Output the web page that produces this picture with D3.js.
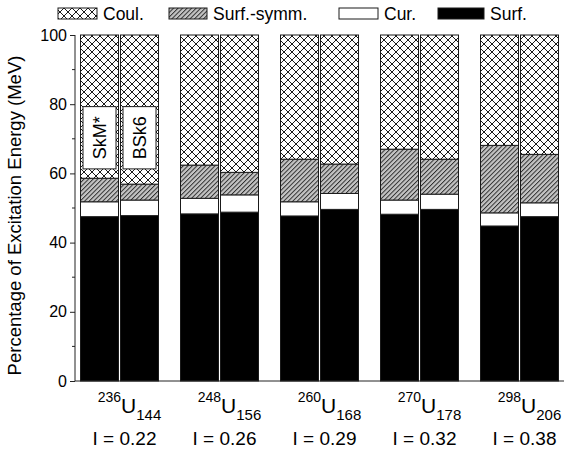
<!DOCTYPE html>
<html>
<head>
<meta charset="utf-8">
<script src="https://cdn.jsdelivr.net/npm/d3@7"></script>
<style>
  html, body { margin: 0; padding: 0; background: #fff; }
  svg { display: block; font-family: "Liberation Sans", Arial, sans-serif; }
</style>
</head>
<body>
<svg id="chart" width="577" height="451"></svg>
<script>
// Nuclei (mass number, neutron number) and isospin asymmetry
const massNumbers = ["236", "248", "260", "270", "298"];
const neutronNumbers = ["144", "156", "168", "178", "206"];
const asymmetry = ["0.22", "0.26", "0.29", "0.32", "0.38"];
const models = ["SkM*", "BSk6"];

// Energy shares (%), ordered nucleus by nucleus: [SkM*, BSk6, SkM*, BSk6, ...]
const surf     = [47.5, 47.8, 48.3, 48.8, 47.7, 49.6, 48.2, 49.6, 44.8, 47.5];
const cur      = [ 4.3,  4.5,  4.5,  5.0,  4.1,  4.6,  4.1,  4.4,  3.8,  4.0];
const surfSymm = [ 6.8,  4.6,  9.6,  6.5, 12.3,  8.5, 14.7, 10.1, 19.5, 14.0];
const coul     = [41.4, 43.1, 37.6, 39.7, 35.9, 37.3, 33.0, 35.9, 31.9, 34.5];

const yTicks = [0, 20, 40, 60, 80, 100];
const yMinorTicks = [10, 30, 50, 70, 90];

const keys = ["surf", "cur", "surfSymm", "coul"];
const legendLabels = { coul: "Coul.", surfSymm: "Surf.-symm.", cur: "Cur.", surf: "Surf." };

const rows = [];
massNumbers.forEach((a, gi) => {
  models.forEach((m, mi) => {
    const i = gi * 2 + mi;
    rows.push({ nucleus: a, model: m, surf: surf[i], cur: cur[i], surfSymm: surfSymm[i], coul: coul[i] });
  });
});

const svg = d3.select("#chart");
const defs = svg.append("defs");

// Cross-hatch for the Coulomb part
const pc = defs.append("pattern").attr("id", "pat-coul")
  .attr("patternUnits", "userSpaceOnUse").attr("width", 8).attr("height", 8);
pc.append("rect").attr("width", 8).attr("height", 8).attr("fill", "#fff");
pc.append("path").attr("d", "M0,0L8,8M8,0L0,8M-1,1L1,-1M7,9L9,7M-1,7L1,9M7,-1L9,1")
  .attr("stroke", "#000").attr("stroke-width", 0.9);

// Grey diagonal hatch for the surface-symmetry part
const ps = defs.append("pattern").attr("id", "pat-symm")
  .attr("patternUnits", "userSpaceOnUse").attr("width", 3.2).attr("height", 10)
  .attr("patternTransform", "rotate(45)");
ps.append("rect").attr("width", 3.2).attr("height", 10).attr("fill", "#c4c4c4");
ps.append("line").attr("x1", 0.5).attr("x2", 0.5).attr("y1", 0).attr("y2", 10)
  .attr("stroke", "#222").attr("stroke-width", 0.9);

const fills = { surf: "#000", cur: "#fff", surfSymm: "url(#pat-symm)", coul: "url(#pat-coul)" };

const x0 = d3.scaleBand().domain(massNumbers).range([69.5, 569.5])
  .paddingInner(0.22).paddingOuter(0.11);
const x1 = d3.scaleBand().domain(models).range([0, x0.bandwidth()]).paddingInner(0.05);
const y = d3.scaleLinear().domain([0, 100]).range([381, 35]);

const stack = d3.stack().keys(keys);
const series = stack(rows);

const gBars = svg.append("g");
series.forEach(s => {
  gBars.append("g").selectAll("rect").data(s).join("rect")
    .attr("x", d => x0(d.data.nucleus) + x1(d.data.model))
    .attr("width", x1.bandwidth())
    .attr("y", d => y(d[1]))
    .attr("height", d => y(d[0]) - y(d[1]))
    .attr("fill", fills[s.key])
    .attr("stroke", "#1a1a1a")
    .attr("stroke-width", 1);
});

// Model name boxes inside the first nucleus' bars
models.forEach(m => {
  const bx = x0(massNumbers[0]) + x1(m) + 2.5;
  const bw = x1.bandwidth() - 5;
  const top = y(79.3), bot = y(61.3);
  svg.append("rect").attr("x", bx).attr("y", top).attr("width", bw).attr("height", bot - top)
    .attr("fill", "#fff").attr("stroke", "#1a1a1a").attr("stroke-width", 1);
  const cx = bx + bw / 2, cy = (top + bot) / 2;
  svg.append("text").attr("transform", `translate(${cx + 6.5},${cy}) rotate(-90)`)
    .attr("text-anchor", "middle").attr("font-size", 18).text(m);
});

// Axes
const axisLeft = d3.axisLeft(y).tickValues(yTicks).tickSize(5).tickPadding(3).tickSizeOuter(0);
const gy = svg.append("g").attr("transform", "translate(75,0)").call(axisLeft);
gy.select(".domain").remove();
gy.selectAll("text").attr("font-size", 16).attr("font-family", "Liberation Sans, Arial, sans-serif");
gy.selectAll("line").attr("stroke", "#222");
svg.append("g").attr("transform", "translate(75,0)")
  .selectAll("line").data(yMinorTicks).join("line")
  .attr("x1", -3).attr("x2", 0).attr("y1", d => y(d)).attr("y2", d => y(d)).attr("stroke", "#222");
svg.append("line").attr("x1", 75).attr("x2", 75).attr("y1", y(100)).attr("y2", y(0))
  .attr("stroke", "#222").attr("stroke-width", 1);
svg.append("line").attr("x1", 75).attr("x2", 564).attr("y1", y(0)).attr("y2", y(0))
  .attr("stroke", "#222").attr("stroke-width", 1);

// Y-axis title
svg.append("text").attr("transform", `translate(21,${(y(0) + y(100)) / 2 + 7.5}) rotate(-90)`)
  .attr("text-anchor", "middle").attr("font-size", 18.5)
  .text("Percentage of Excitation Energy (MeV)");

// Nucleus labels
massNumbers.forEach((a, i) => {
  const cx = x0(a) + x0.bandwidth() / 2;
  const t = svg.append("text").attr("x", cx + 10).attr("y", 402).attr("text-anchor", "middle");
  t.append("tspan").attr("font-size", 14).text(a);
  t.append("tspan").attr("font-size", 21).attr("dy", 11).text("U");
  t.append("tspan").attr("font-size", 15).attr("dy", 7).text(neutronNumbers[i]);
  svg.append("text").attr("x", cx + 5).attr("y", 445).attr("text-anchor", "middle")
    .attr("font-size", 19).text("I = " + asymmetry[i]);
});

// Legend
const legendItems = [
  { key: "coul", x: 58, w: 39 },
  { key: "surfSymm", x: 169, w: 38 },
  { key: "cur", x: 339, w: 39 },
  { key: "surf", x: 438, w: 46 }
];
legendItems.forEach(it => {
  svg.append("rect").attr("x", it.x).attr("y", 8).attr("width", it.w).attr("height", 11)
    .attr("fill", fills[it.key]).attr("stroke", "#1a1a1a").attr("stroke-width", 1);
  svg.append("text").attr("x", it.x + it.w + 6).attr("y", 20).attr("font-size", 17.5)
    .text(legendLabels[it.key]);
});
</script>
</body>
</html>
